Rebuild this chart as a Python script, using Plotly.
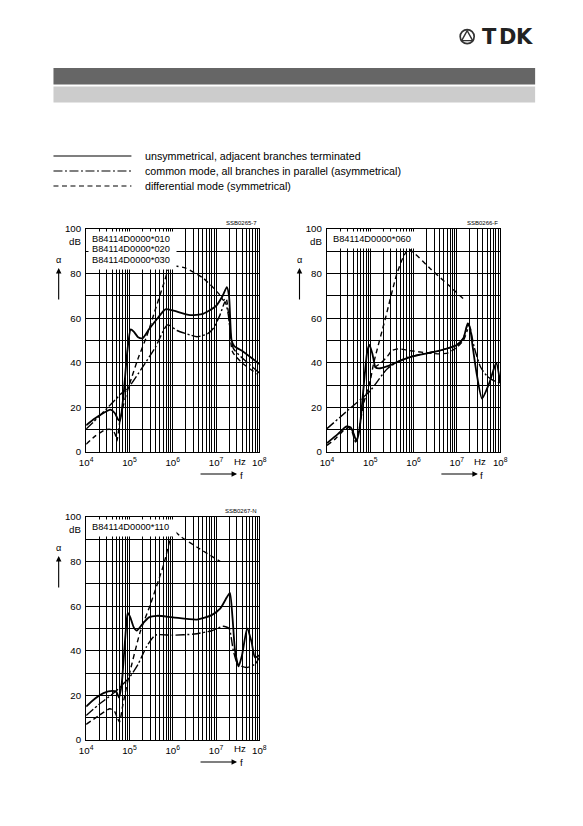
import numpy as np
import plotly.graph_objects as go

# figure size; page pixels of the reference are mapped to figure pixels below
W, H = 567, 810
FONT = "Liberation Sans, Arial, sans-serif"

# frequency values are log10(f / Hz), attenuation alpha in dB

# --- panel 1: B84114D0000*010 / *020 / *030 ---
p1_sol_f = [4.0, 4.2, 4.4, 4.56, 4.66, 4.74, 4.78, 4.86, 4.95, 5.03, 5.1, 5.2, 5.3, 5.45,
            5.65, 5.83, 6.0, 6.4, 6.7, 7.0, 7.15, 7.25, 7.3, 7.36, 7.42, 7.63, 8.0]
p1_sol_a = [12, 15, 17.5, 19, 17.5, 14.5, 14, 25, 45, 55, 54, 51.5, 51, 55,
            60, 64, 63.5, 61.4, 62, 65.5, 70, 74, 70, 50, 47.5, 45, 39.5]
p1_cm_f = [4.0, 4.3, 4.6, 4.8, 5.0, 5.3, 5.6, 5.88, 6.1, 6.4, 6.56, 6.8, 6.94, 7.09,
           7.21, 7.28, 7.4, 7.79, 8.0]
p1_cm_a = [10.3, 16, 22, 26, 29.5, 38, 47, 57, 54.5, 52.5, 51.7, 53, 55.5, 61.4,
           67.4, 62, 46.5, 39, 35.5]
p1_dm_f = [4.0, 4.2, 4.44, 4.6, 4.67, 4.71, 4.78, 4.9, 5.02, 5.2, 5.4, 5.6, 5.8, 5.93,
           6.1, 6.3, 6.71, 7.09, 7.17, 7.23, 7.3, 7.38, 7.6, 7.95]
p1_dm_a = [3.5, 7, 10, 10, 8, 5, 14, 24, 31.5, 42, 52, 64, 76, 83,
           83.3, 82.5, 77.9, 70.4, 68, 69, 60, 45, 40, 35]

# --- panel 2: B84114D0000*060 ---
p2_sol_f = [4.0, 4.25, 4.45, 4.55, 4.62, 4.68, 4.75, 4.85, 4.93, 4.98, 5.05, 5.12, 5.2,
            5.4, 5.7, 6.0, 6.5, 7.0, 7.15, 7.25, 7.3, 7.36, 7.45, 7.58, 7.75, 7.91, 8.0]
p2_sol_a = [4, 8, 11.5, 11, 8, 5, 10, 30, 45, 48, 44, 38, 37.5,
            38.5, 41, 43, 45, 48, 51, 57.7, 56, 48, 36, 24, 31, 40, 31]
p2_cm_f = [4.0, 4.5, 5.0, 5.4, 5.8, 6.2, 6.6, 7.0, 7.15, 7.25, 7.3, 7.4, 7.55, 7.7, 7.85, 8.0]
p2_cm_a = [10.5, 19, 27.5, 37.5, 42, 44, 45.5, 48, 51, 57, 56, 47, 38, 34, 32, 31]
p2_dm_f = [4.0, 4.2, 4.4, 4.5, 4.58, 4.66, 4.72, 4.85, 5.0, 5.08, 5.35, 5.6, 5.75, 5.88,
           6.0, 6.4, 6.8, 7.19]
p2_dm_a = [3, 6, 10, 11, 9, 4.5, 8, 22, 32, 40, 60, 79, 87, 91,
           89.5, 82, 75, 68]
p2_dm2_f = [5.1, 5.25, 5.4, 5.5, 5.65, 5.9, 6.3, 6.6, 6.8, 7.0, 7.15, 7.25]
p2_dm2_a = [38, 40, 43, 45.5, 46.3, 45.5, 44.5, 44, 44.5, 47, 50, 55]

# --- panel 3: B84114D0000*110 ---
p3_sol_f = [4.0, 4.2, 4.4, 4.6, 4.7, 4.76, 4.82, 4.9, 4.96, 5.02, 5.1, 5.17, 5.3, 5.45,
            5.64, 6.0, 6.56, 6.9, 7.1, 7.25, 7.32, 7.38, 7.44, 7.52, 7.6, 7.72, 7.82, 7.9, 8.0]
p3_sol_a = [15, 18.5, 21, 22, 21.5, 19, 25, 45, 57, 55, 50.5, 49, 52, 55,
            55.7, 55, 54, 56, 59, 64, 66, 55, 40, 33, 38, 50, 44, 37, 38]
p3_cm_f = [4.0, 4.3, 4.6, 4.75, 4.85, 5.0, 5.2, 5.4, 5.6, 6.0, 6.5, 6.9, 7.17, 7.3,
           7.4, 7.5, 7.7, 7.9, 8.0]
p3_cm_a = [11, 16, 20.5, 23, 25, 28, 34, 42, 47, 47, 47.5, 49, 51, 50,
           40, 34, 32.5, 34, 37]
p3_dm_f = [4.0, 4.3, 4.55, 4.65, 4.72, 4.77, 4.85, 4.98, 5.25, 5.48, 5.79, 6.02, 6.2, 6.6, 7.1]
p3_dm_a = [7, 11, 14, 13, 10, 8, 16, 28, 48.6, 60.6, 78.6, 93.6, 91, 86, 80]

legend_texts = ["unsymmetrical, adjacent branches terminated",
                "common mode, all branches in parallel (asymmetrical)",
                "differential mode (symmetrical)"]
panel_types = [["B84114D0000*010", "B84114D0000*020", "B84114D0000*030"],
               ["B84114D0000*060"],
               ["B84114D0000*110"]]
panel_codes = ["SSB0265-7", "SSB0266-F", "SSB0267-N"]
x_ticks = [1e4, 1e5, 1e6, 1e7, 1e8]
x_ticktext = ["10<sup>4</sup>", "10<sup>5</sup>", "10<sup>6</sup>", "10<sup>7</sup>", "10<sup>8</sup>"]
y_ticks = [0, 10, 20, 30, 40, 50, 60, 70, 80, 90, 100]
y_ticktext = ["0", "", "20", "", "40", "", "60", "", "80", "", "100"]

DASH = "5px,3.5px"
DASHDOT = "9px,2.5px,2px,2.5px"
styles = {"sol": dict(color="black", width=1.8),
          "cm": dict(color="black", width=1.4, dash=DASHDOT),
          "dm": dict(color="black", width=1.4, dash=DASH)}

# plot boxes in page pixels: left, top, right, bottom
panels = [
    dict(box=(85.7, 229, 259, 452), curves=[("sol", p1_sol_f, p1_sol_a), ("cm", p1_cm_f, p1_cm_a),
                                            ("dm", p1_dm_f, p1_dm_a)]),
    dict(box=(326.7, 229, 500, 452), curves=[("sol", p2_sol_f, p2_sol_a), ("cm", p2_cm_f, p2_cm_a),
                                             ("dm", p2_dm_f, p2_dm_a), ("dm", p2_dm2_f, p2_dm2_a)]),
    dict(box=(85.7, 517, 259, 740), curves=[("sol", p3_sol_f, p3_sol_a), ("cm", p3_cm_f, p3_cm_a),
                                            ("dm", p3_dm_f, p3_dm_a)]),
]


# the photographed page shows the figure shifted and slightly shrunk; undo that here
def X(px):
    return ((px - 14.5) / 0.976) / W


def Y(py):
    return 1 - ((py - 13.9) / 0.9866) / H


minor_vals = [k * 10.0 ** n for n in range(4, 8) for k in range(2, 10)]

fig = go.Figure()
layout = dict(width=W, height=H, margin=dict(l=0, r=0, t=0, b=0),
              paper_bgcolor="white", plot_bgcolor="white", showlegend=False,
              font=dict(family=FONT, color="black", size=9.7))
shapes, annots = [], []

for i, p in enumerate(panels):
    n = "" if i == 0 else str(i + 1)
    x0, y0, x1, y1 = p["box"]
    for kind, f, a in p["curves"]:
        fig.add_trace(go.Scatter(x=np.power(10.0, f), y=a, mode="lines",
                                 line=dict(shape="spline", smoothing=0.6, **styles[kind]),
                                 xaxis="x" + n, yaxis="y" + n, hoverinfo="skip"))
    layout["xaxis" + n] = dict(type="log", range=[4, 8], domain=[X(x0), X(x1)], anchor="y" + n,
                               showline=True, mirror=True, linecolor="black", linewidth=1.3,
                               showgrid=True, gridcolor="black", gridwidth=1, zeroline=False,
                               tickvals=x_ticks, ticktext=x_ticktext, ticks="",
                               tickfont=dict(size=9.7), ticklabelstandoff=1,
                               minor=dict(tickvals=minor_vals, showgrid=True,
                                          gridcolor="black", gridwidth=0.8, ticks=""))
    layout["yaxis" + n] = dict(range=[0, 100], domain=[Y(y1), Y(y0)], anchor="x" + n,
                               showline=True, mirror=True, linecolor="black", linewidth=1.3,
                               showgrid=True, gridcolor="black", gridwidth=1, zeroline=False,
                               tickvals=y_ticks, ticktext=y_ticktext, ticks="",
                               tickfont=dict(size=9.7), ticklabelstandoff=2)
    # type designation box: white patch first, then the text lines on top
    lines = panel_types[i]
    annots.append(dict(text=" ", xref="paper", yref="paper", x=X(x0 + 1.5), y=Y(y0 + 1.5),
                       xanchor="left", yanchor="top", showarrow=False, width=87,
                       height=10.5 * len(lines) + 5, bgcolor="white", borderpad=0))
    for j, t in enumerate(lines):
        annots.append(dict(text=t, xref="paper", yref="paper", x=X(x0 + 4), y=Y(y0 + 9.5 + 10.5 * j),
                           xanchor="left", yanchor="middle", showarrow=False, font=dict(size=9.3)))
    annots.append(dict(text=panel_codes[i], xref="paper", yref="paper", x=X(x1), y=Y(y0 - 6),
                       xanchor="right", yanchor="middle", showarrow=False, font=dict(size=6)))
    annots.append(dict(text="dB", xref="paper", yref="paper", x=X(x0 - 3), y=Y(y0 + 12),
                       xanchor="right", yanchor="middle", showarrow=False, font=dict(size=9.7)))
    annots.append(dict(text="Hz", xref="paper", yref="paper", x=X(x0 + 153.5), y=Y(y1 + 9),
                       xanchor="center", yanchor="middle", showarrow=False, font=dict(size=9.7)))
    annots.append(dict(text="α", xref="paper", yref="paper", x=X(x0 - 27), y=Y(y0 + 31),
                       xanchor="center", yanchor="middle", showarrow=False, font=dict(size=9.2)))
    annots.append(dict(text="", xref="paper", yref="paper", x=X(x0 - 27.5), y=Y(y0 + 39),
                       ax=0, ay=33, axref="pixel", ayref="pixel",
                       showarrow=True, arrowhead=2, arrowsize=1, arrowwidth=1.1, arrowcolor="black"))
    annots.append(dict(text="", xref="paper", yref="paper", x=X(x0 + 151), y=Y(y1 + 22),
                       ax=-38, ay=0, axref="pixel", ayref="pixel",
                       showarrow=True, arrowhead=2, arrowsize=1, arrowwidth=1.1, arrowcolor="black"))
    annots.append(dict(text="f", xref="paper", yref="paper", x=X(x0 + 155), y=Y(y1 + 23),
                       xanchor="center", yanchor="middle", showarrow=False, font=dict(size=9.7)))

# header bars
shapes.append(dict(type="rect", xref="paper", yref="paper", x0=X(53), x1=X(535), y0=Y(84.5), y1=Y(68),
                   fillcolor="#666666", line=dict(width=0)))
shapes.append(dict(type="rect", xref="paper", yref="paper", x0=X(53), x1=X(535), y0=Y(102.5), y1=Y(86.5),
                   fillcolor="#cccccc", line=dict(width=0)))

# TDK logo
shapes.append(dict(type="circle", xref="paper", yref="paper", x0=X(460), x1=X(474), y0=Y(43.5), y1=Y(29.5),
                   line=dict(color="#333333", width=1.7)))
shapes.append(dict(type="path", xref="paper", yref="paper",
                   path="M %f,%f L %f,%f L %f,%f Z" % (X(467), Y(30.5), X(461.5), Y(40.5), X(472.5), Y(40.5)),
                   line=dict(color="#333333", width=1.4)))
for k, ch in enumerate("TDK"):
    annots.append(dict(text="<b>%s</b>" % ch, xref="paper", yref="paper", x=X(489.5 + 17.5 * k), y=Y(36.5),
                       xanchor="center", yanchor="middle", showarrow=False,
                       font=dict(size=21, family="DejaVu Sans, sans-serif", color="#222222")))

# line-style legend
leg_dash = ["solid", DASHDOT, DASH]
for k, t in enumerate(legend_texts):
    yy = 156 + 15 * k
    shapes.append(dict(type="line", xref="paper", yref="paper", x0=X(53), x1=X(131), y0=Y(yy), y1=Y(yy),
                       line=dict(color="black", width=1.1, dash=leg_dash[k])))
    annots.append(dict(text=t, xref="paper", yref="paper", x=X(143), y=Y(yy),
                       xanchor="left", yanchor="middle", showarrow=False, font=dict(size=10.7)))

layout["shapes"] = shapes
layout["annotations"] = annots
fig.update_layout(**layout)
fig.write_html("out.html")
